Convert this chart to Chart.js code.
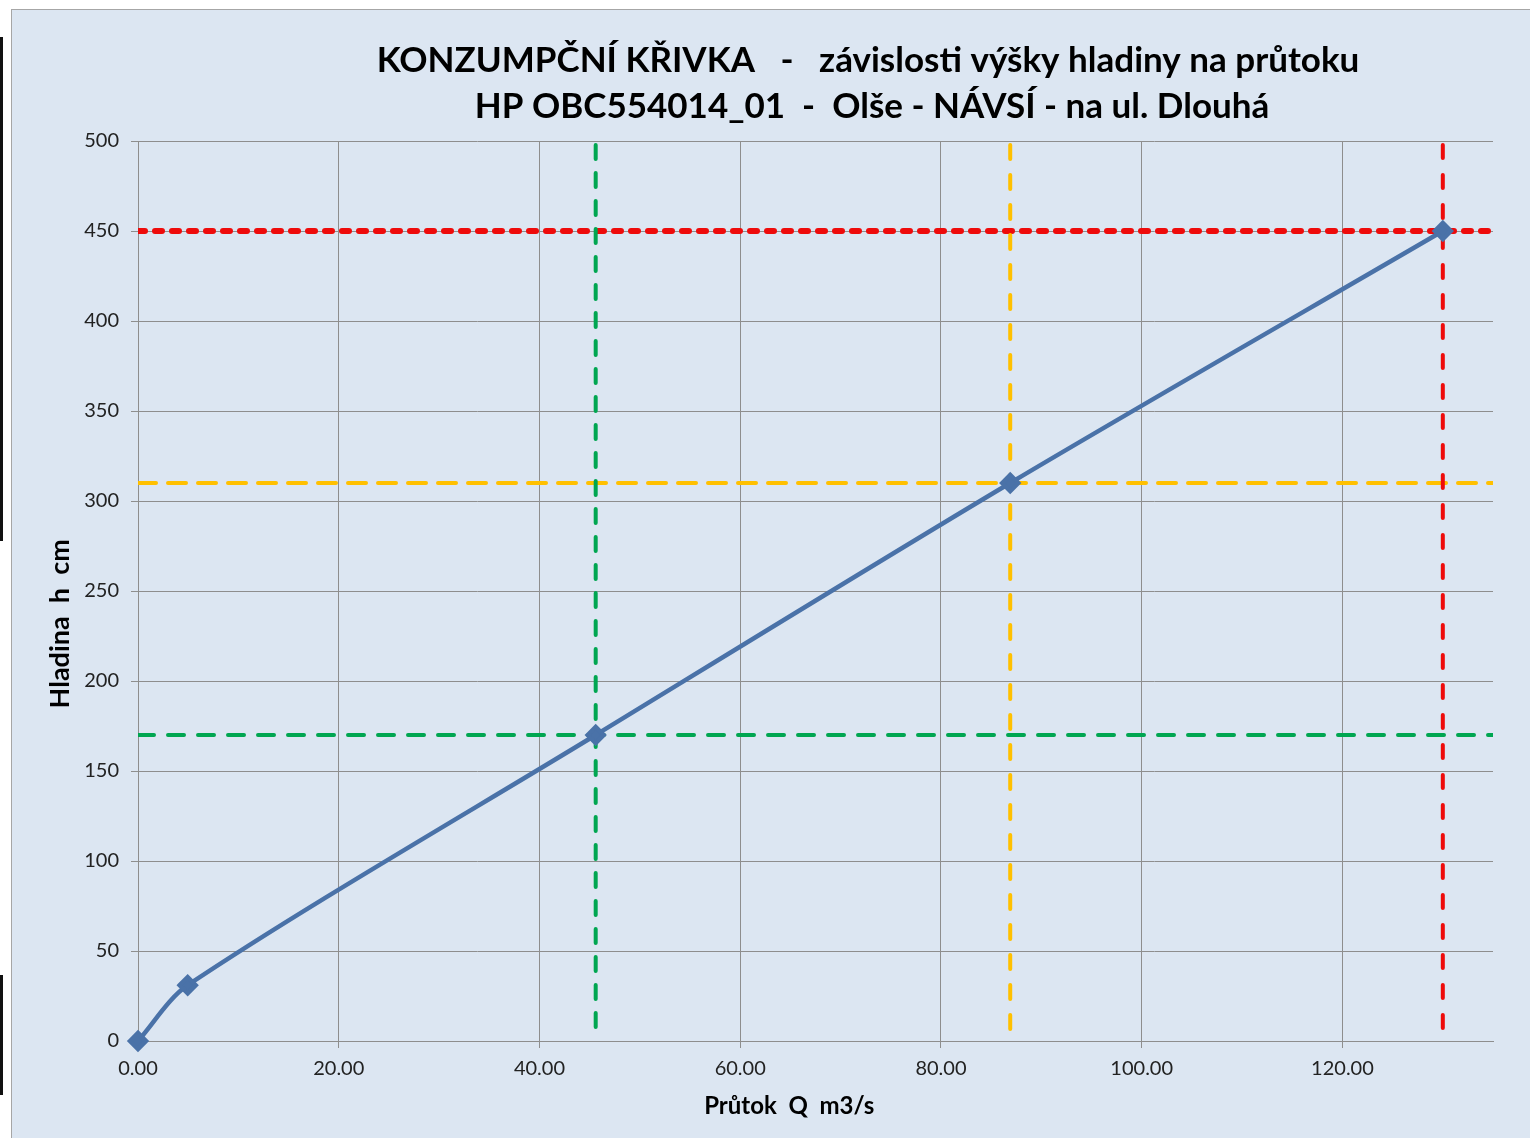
<!DOCTYPE html>
<html>
<head>
<meta charset="utf-8">
<script src="https://cdn.jsdelivr.net/npm/chart.js@4/dist/chart.umd.min.js"></script>
<style>
  body { margin: 0; background: #fff; width: 1530px; height: 1138px; overflow: hidden; position: relative; }
  #panel { position: absolute; left: 11px; top: 9px; width: 1530px; height: 1140px; background: #dce6f2; border: 1px solid #a6a6a6; box-sizing: border-box; }
  .mark { position: absolute; left: 0; width: 3px; background: #111; }
  #wrap { position: absolute; left: 0; top: 0; width: 1530px; height: 1138px; }
</style>
</head>
<body>
<div class="mark" style="top:37px;height:504px"></div>
<div class="mark" style="top:975px;height:120px"></div>
<div id="panel"></div>
<div id="wrap"><canvas id="graf" width="1530" height="1138"></canvas></div>
<script>
// konzumpcni krivka - prutok Q (m3/s) a hladina h (cm)
const prutok = [0, 4.95, 45.6, 86.9, 130];
const hladina = [0, 31, 170, 310, 450];

// stupne povodnove aktivity: hladina a odpovidajici prutok
const spaHladina = [170, 310, 450];
const spaPrutok = [45.6, 86.9, 130];
const spaBarvy = ['#00a651', '#ffc000', '#ee0b0b'];

const xTicks = [0, 20, 40, 60, 80, 100, 120];
const yTicks = [0, 50, 100, 150, 200, 250, 300, 350, 400, 450, 500];

const xMax = 135, yMax = 500;

const titulek = [
  'KONZUMPČNÍ KŘIVKA   -   závislosti výšky hladiny na průtoku',
  'HP OBC554014_01  -  Olše - NÁVSÍ - na ul. Dlouhá'
];

const dashH = [[16, 14], [18, 12], [7, 10]];
const dashV = [[14, 14], [14, 16], [13, 17]];
const widthH = [4, 4, 6];

const datasets = [{
  label: 'Q-h',
  data: prutok.map((q, i) => ({ x: q, y: hladina[i] })),
  showLine: true,
  tension: 0.3,
  borderColor: '#4a72a8',
  backgroundColor: '#4a72a8',
  borderWidth: 4.5,
  pointStyle: 'rectRot',
  pointRadius: 8,
  clip: false,
  order: 0
}];

spaHladina.forEach((h, i) => {
  datasets.push({
    label: 'h' + i,
    data: [{ x: 0, y: h }, { x: xMax, y: h }],
    showLine: true,
    borderColor: spaBarvy[i],
    borderWidth: widthH[i],
    borderDash: dashH[i],
    borderCapStyle: 'round',
    pointRadius: 0,
    order: 2
  });
  datasets.push({
    label: 'q' + i,
    data: [{ x: spaPrutok[i], y: yMax }, { x: spaPrutok[i], y: 0 }],
    showLine: true,
    borderColor: spaBarvy[i],
    borderWidth: 4,
    borderDash: dashV[i],
    borderDashOffset: -4,
    borderCapStyle: 'round',
    pointRadius: 0,
    order: 1
  });
});

const titulekPlugin = {
  id: 'titulek',
  afterDraw(chart) {
    const c = chart.ctx;
    c.save();
    c.fillStyle = '#000';
    c.font = 'bold 35px Lato, "Open Sans", sans-serif';
    c.textAlign = 'center';
    c.textBaseline = 'alphabetic';
    c.fillText(titulek[0], 868, 72);
    c.fillText(titulek[1], 872, 118);
    c.restore();
  }
};

const grid = { color: '#8e8e8e', lineWidth: 1, tickLength: 7, drawTicks: true };
const tickFont = { family: 'Lato, "Open Sans", sans-serif', size: 20 };

new Chart(document.getElementById('graf'), {
  type: 'scatter',
  data: { datasets },
  plugins: [titulekPlugin],
  options: {
    responsive: false,
    animation: false,
    layout: { padding: { left: 0, top: 141, right: 37, bottom: 0 } },
    plugins: { legend: { display: false }, tooltip: { enabled: false } },
    scales: {
      x: {
        type: 'linear',
        min: 0,
        max: xMax,
        afterBuildTicks: s => { s.ticks = xTicks.map(v => ({ value: v })); },
        afterFit: s => { s.height = 97; },
        grid,
        border: { color: '#8e8e8e' },
        ticks: { font: tickFont, color: '#222', padding: 9, callback: v => v.toFixed(2) },
        title: {
          display: true,
          text: 'Průtok  Q  m3/s         ',
          font: { family: 'Lato, "Open Sans", sans-serif', size: 24, weight: 'bold' },
          color: '#000',
          padding: { bottom: 17 }
        }
      },
      y: {
        type: 'linear',
        min: 0,
        max: yMax,
        afterBuildTicks: s => { s.ticks = yTicks.map(v => ({ value: v })); },
        afterFit: s => { s.width = 138; },
        grid,
        border: { color: '#8e8e8e' },
        ticks: { font: tickFont, color: '#222', padding: 12 },
        title: {
          display: true,
          text: 'Hladina  h  cm          ',
          font: { family: 'Lato, "Open Sans", sans-serif', size: 27, weight: 'bold' },
          color: '#000',
          padding: { top: 44 }
        }
      }
    }
  }
});
</script>
</body>
</html>
